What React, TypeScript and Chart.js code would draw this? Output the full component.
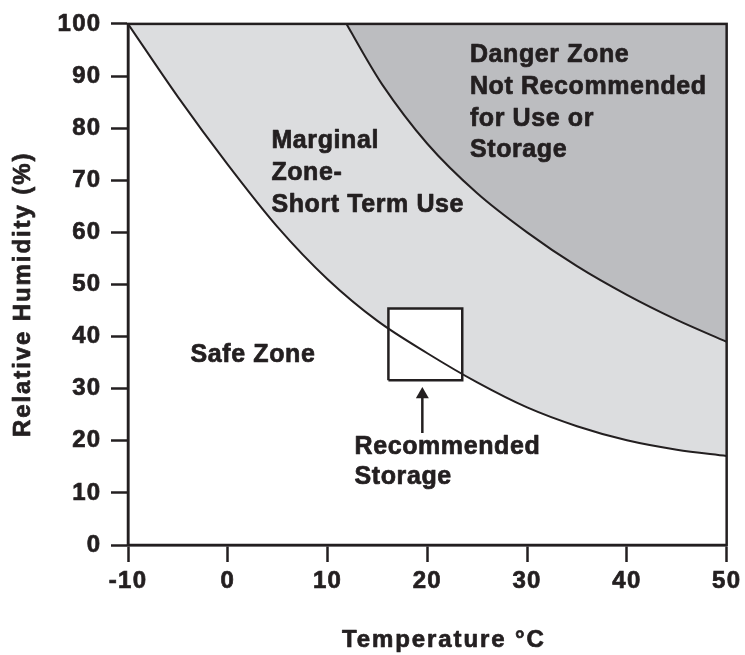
import React, { useEffect, useRef } from "react";
import { Chart, registerables } from "chart.js";

Chart.register(...registerables);

// ---- data ----
const lowerTemp = [-10, -5, 0, 5, 10, 15, 20, 25, 30, 35, 40, 45, 50];
const lowerRH = [100, 86, 73, 61, 51, 43, 36.8, 31.2, 26.4, 22.8, 20.1, 18.3, 17.1];

const upperTemp = [11.9, 13.5, 15.5, 20, 25, 30, 35, 40, 45, 50];
const upperRH = [100, 94.6, 88.3, 77, 67.5, 60, 53.5, 48, 43.2, 39];

const boxTemp = [16.1, 16.1, 23.5, 23.5, 16.1];
const boxRH = [31.6, 45.4, 45.4, 31.6, 31.6];

const arrowTemp = [19.5, 19.5];
const arrowRH = [21.5, 28.9];

const xTickValues = [-10, 0, 10, 20, 30, 40, 50];
const yTickValues = [0, 10, 20, 30, 40, 50, 60, 70, 80, 90, 100];

const xTitle = "Temperature °C";
const yTitle = "Relative Humidity (%)";

const marginalLines = ["Marginal", "Zone-", "Short Term Use"];
const dangerLines = ["Danger Zone", "Not Recommended", "for Use or", "Storage"];
const safeLines = ["Safe Zone"];
const recommendedLines = ["Recommended", "Storage"];

// ---- styles ----
const INK = "#231f20";
const LIGHT = "#dcdddf";
const DARK = "#bcbdc0";
const FONT = "'Liberation Sans', Arial, Helvetica, sans-serif";

const labels = [
  { lines: marginalLines, t: 4.37, rh: 76.2, lh: 32 },
  { lines: dangerLines, t: 24.27, rh: 92.66, lh: 31.7 },
  { lines: safeLines, t: -3.73, rh: 35.1, lh: 30 },
  { lines: recommendedLines, t: 12.7, rh: 17.4, lh: 30 },
];

const pts = (xs: number[], ys: number[]) => xs.map((x, i) => ({ x, y: ys[i] }));

function drawSpaced(ctx: CanvasRenderingContext2D, text: string, x: number, y: number, size: number, spacing: number) {
  ctx.font = `bold ${size}px ${FONT}`;
  (ctx as any).letterSpacing = `${spacing}px`;
  ctx.fillStyle = INK;
  ctx.strokeStyle = INK;
  ctx.lineWidth = 0.7;
  ctx.lineJoin = "round";
  ctx.textAlign = "left";
  ctx.textBaseline = "alphabetic";
  ctx.strokeText(text, x, y);
  ctx.fillText(text, x, y);
}

const decorPlugin = {
  id: "decor",
  beforeDraw(chart: any) {
    (chart.ctx as any).letterSpacing = "1.3px";
  },
  afterDatasetsDraw(chart: any) {
    const { ctx, chartArea } = chart;
    ctx.save();
    ctx.strokeStyle = INK;
    ctx.lineWidth = 2.5;
    ctx.strokeRect(chartArea.left, chartArea.top, chartArea.right - chartArea.left, chartArea.bottom - chartArea.top);
    ctx.restore();
  },
  afterDraw(chart: any) {
    const { ctx, scales } = chart;
    const xs = scales.x;
    const ys = scales.y;
    ctx.save();
    for (const l of labels) {
      const px = xs.getPixelForValue(l.t);
      const py = ys.getPixelForValue(l.rh);
      l.lines.forEach((line, i) => drawSpaced(ctx, line, px, py + i * l.lh, 25, 0.6));
    }
    // x-axis title
    drawSpaced(ctx, xTitle, 342, 647, 24, 1.9);
    // y-axis title (rotated)
    ctx.save();
    ctx.translate(30, 437);
    ctx.rotate(-Math.PI / 2);
    drawSpaced(ctx, yTitle, 0, 0, 24, 1.9);
    ctx.restore();
    ctx.restore();
  },
};

export default function App() {
  const ref = useRef<HTMLCanvasElement | null>(null);

  useEffect(() => {
    if (!ref.current) return;
    Chart.defaults.font.family = FONT;
    const chart = new Chart(ref.current, {
      type: "scatter",
      data: {
        datasets: [
          {
            label: "Danger zone boundary",
            data: pts(upperTemp, upperRH),
            showLine: true,
            borderColor: INK,
            borderWidth: 2,
            backgroundColor: DARK,
            fill: "end",
            pointRadius: 0,
            cubicInterpolationMode: "monotone",
          },
          {
            label: "Recommended storage",
            data: pts(boxTemp, boxRH),
            showLine: true,
            borderColor: INK,
            borderWidth: 2.5,
            backgroundColor: "#ffffff",
            fill: "shape",
            pointRadius: 0,
            tension: 0,
          },
          {
            label: "Safe zone boundary",
            data: pts(lowerTemp, lowerRH),
            showLine: true,
            borderColor: INK,
            borderWidth: 2,
            backgroundColor: LIGHT,
            fill: "end",
            pointRadius: 0,
            cubicInterpolationMode: "monotone",
          },
          {
            label: "Arrow",
            data: pts(arrowTemp, arrowRH),
            showLine: true,
            borderColor: INK,
            borderWidth: 2.5,
            fill: false,
            pointRadius: [0, 7.5],
            pointStyle: "triangle",
            pointBackgroundColor: INK,
            pointBorderColor: INK,
            pointBorderWidth: 0,
          },
        ],
      } as any,
      options: {
        responsive: false,
        animation: false,
        events: [],
        layout: { padding: { top: 18, right: 17, left: 0, bottom: 0 } },
        plugins: {
          legend: { display: false },
          tooltip: { enabled: false },
          filler: { drawTime: "beforeDatasetsDraw" },
        } as any,
        scales: {
          x: {
            type: "linear",
            min: -10,
            max: 50,
            afterBuildTicks: (s: any) => {
              s.ticks = xTickValues.map((v) => ({ value: v }));
            },
            afterFit: (s: any) => {
              s.height = 110;
            },
            ticks: {
              font: { size: 24, weight: "bold" },
              color: INK,
              textStrokeColor: INK,
              textStrokeWidth: 0.7,
              padding: 5,
              maxRotation: 0,
              autoSkip: false,
              callback: (v: any) => String(v),
            },
            grid: { drawOnChartArea: false, drawTicks: true, tickLength: 17, tickWidth: 2.5, tickColor: INK },
            border: { display: true, color: INK, width: 2.5 },
          },
          y: {
            type: "linear",
            min: 0,
            max: 100,
            afterBuildTicks: (s: any) => {
              s.ticks = yTickValues.map((v) => ({ value: v }));
            },
            afterFit: (s: any) => {
              s.width = 128;
            },
            ticks: {
              font: { size: 24, weight: "bold" },
              color: INK,
              textStrokeColor: INK,
              textStrokeWidth: 0.7,
              padding: 9.5,
              autoSkip: false,
              callback: (v: any) => String(v),
            },
            grid: { drawOnChartArea: false, drawTicks: true, tickLength: 17, tickWidth: 2.5, tickColor: INK },
            border: { display: true, color: INK, width: 2.5 },
          },
        },
      } as any,
      plugins: [decorPlugin],
    });
    return () => chart.destroy();
  }, []);

  return (
    <div style={{ position: "absolute", left: 0, top: 0, width: 745, height: 655, background: "#ffffff" }}>
      <canvas ref={ref} width={745} height={655} style={{ display: "block" }} />
    </div>
  );
}
